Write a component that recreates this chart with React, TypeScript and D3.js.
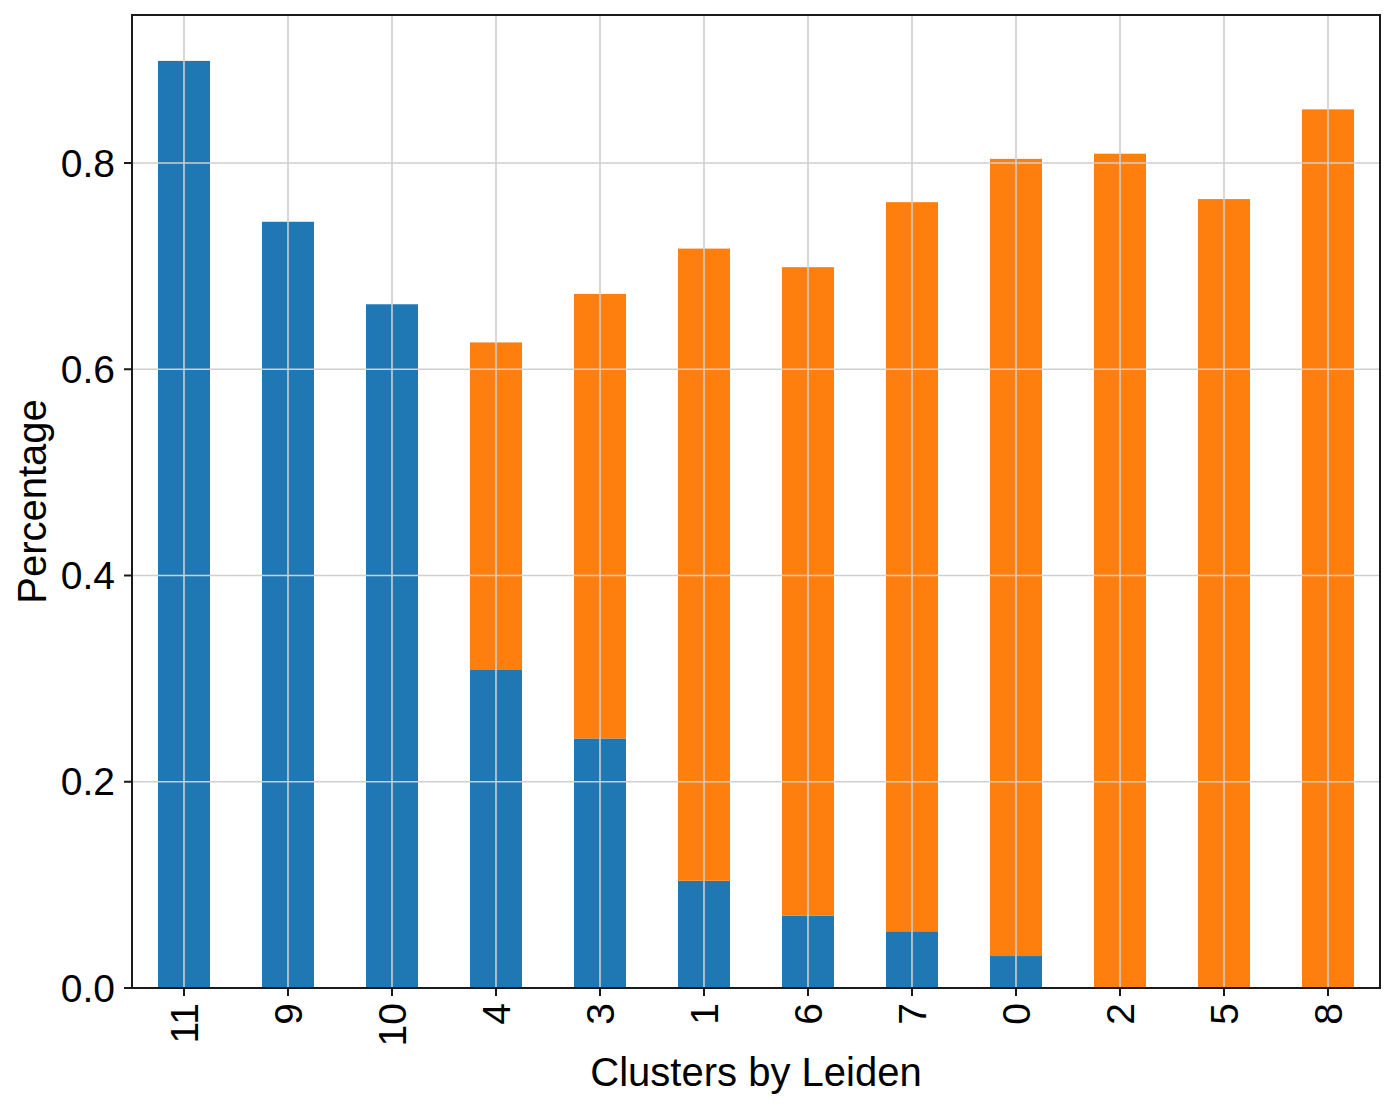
import React from 'react';
import * as d3 from 'd3';

// cluster order as plotted
const clusters = ['11', '9', '10', '4', '3', '1', '6', '7', '0', '2', '5', '8'];
// stacked series
const blueValues = [0.899, 0.743, 0.663, 0.309, 0.242, 0.104, 0.070, 0.055, 0.031, 0, 0, 0];
const orangeValues = [0, 0, 0, 0.317, 0.431, 0.613, 0.629, 0.707, 0.773, 0.809, 0.765, 0.852];
const yTicks = [0, 0.2, 0.4, 0.6, 0.8];
const seriesColors = ['#1f77b4', '#ff7f0e'];

const App = () => {
  const width = 1396;
  const height = 1109;
  const margin = { top: 15, right: 16, bottom: 121, left: 132 };
  const w = width - margin.left - margin.right;
  const h = height - margin.top - margin.bottom;
  const font = 'Liberation Sans, Arial, sans-serif';

  const x = d3.scaleBand().domain(clusters).range([0, w]).paddingInner(0.5).paddingOuter(0.25);
  const y = d3.scaleLinear().domain([0, 0.9435]).range([h, 0]);

  const rows = clusters.map((c, i) => ({ cluster: c, blue: blueValues[i], orange: orangeValues[i] }));
  const stacked = d3.stack<any>().keys(['blue', 'orange'])(rows);

  const bars = stacked.map((layer, li) =>
    layer.map((d, i) => (
      <rect
        key={li + '-' + i}
        fill={seriesColors[li]}
        x={x(clusters[i])}
        y={y(d[1])}
        width={x.bandwidth()}
        height={Math.max(0, y(d[0]) - y(d[1]))}
      />
    ))
  );

  const center = (c: string) => (x(c) as number) + x.bandwidth() / 2;

  return (
    <svg width={width} height={height} style={{ position: 'absolute', left: 0, top: 0 }}>
      <rect width={width} height={height} fill="#fff" />
      <g transform={'translate(' + margin.left + ',' + margin.top + ')'}>
        {bars}

        {/* grid drawn over bars */}
        {clusters.map(c => (
          <line key={'gx' + c} x1={center(c)} x2={center(c)} y1={0} y2={h} stroke="#cfcfcf" strokeWidth={1.6} />
        ))}
        {yTicks.map(t => (
          <line key={'gy' + t} x1={0} x2={w} y1={y(t)} y2={y(t)} stroke="#cfcfcf" strokeWidth={1.6} />
        ))}

        <rect x={0} y={0} width={w} height={h} fill="none" stroke="#1a1a1a" strokeWidth={2} />

        {yTicks.map(t => (
          <g key={'ty' + t} transform={'translate(0,' + y(t) + ')'}>
            <line x1={-8} x2={0} stroke="#1a1a1a" strokeWidth={2} />
            <text x={-17} dy="0.35em" textAnchor="end" fontFamily={font} fontSize={39} fill="#000">
              {t.toFixed(1)}
            </text>
          </g>
        ))}

        {clusters.map(c => (
          <g key={'tx' + c} transform={'translate(' + center(c) + ',' + h + ')'}>
            <line y1={0} y2={8} stroke="#1a1a1a" strokeWidth={2} />
            <text
              transform="translate(0,15) rotate(-90)"
              dy="0.35em"
              textAnchor="end"
              fontFamily={font}
              fontSize={39}
              fill="#000"
            >
              {c}
            </text>
          </g>
        ))}

        <text x={w / 2} y={h + 98} textAnchor="middle" fontFamily={font} fontSize={40} fill="#000">
          Clusters by Leiden
        </text>
        <text
          transform={'translate(-86,' + h / 2 + ') rotate(-90)'}
          textAnchor="middle"
          fontFamily={font}
          fontSize={40}
          fill="#000"
        >
          Percentage
        </text>
      </g>
    </svg>
  );
};

export default App;
